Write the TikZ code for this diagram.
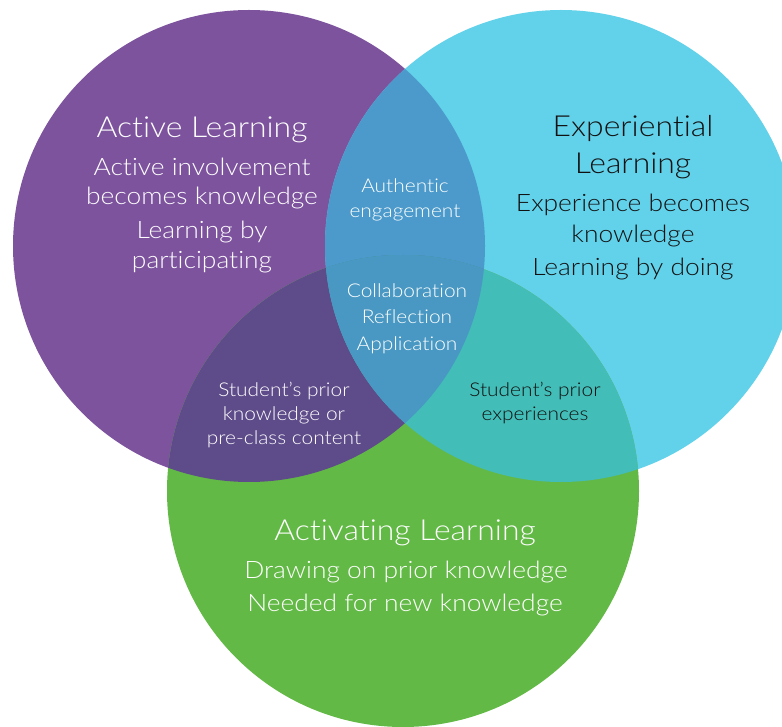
\documentclass[tikz,border=0pt]{standalone}
\usepackage{fontspec}
\newfontfamily\lfont{Lato Light}[FakeStretch=1.1,Ligatures=NoCommon]
\definecolor{cpur}{HTML}{7D539E}
\definecolor{ccya}{HTML}{62D1EA}
\definecolor{cgrn}{HTML}{63B946}
\definecolor{cpc}{HTML}{4B9ACB}
\definecolor{cpg}{HTML}{5E4B89}
\definecolor{ccg}{HTML}{42BDB8}
\definecolor{cpcg}{HTML}{4898C3}
\definecolor{ctxt}{HTML}{111111}
\begin{document}
\begin{tikzpicture}[x=1pt,y=-1pt,
  every node/.style={inner sep=0pt, anchor=base},
  ttl/.style={font=\lfont\fontsize{29}{31}\selectfont},
  bdy/.style={font=\lfont\fontsize{24}{26}\selectfont},
  sml/.style={font=\lfont\fontsize{19}{21}\selectfont},
  wt/.style={text=white},
  bk/.style={text=ctxt}]
\useasboundingbox (0,0) rectangle (782,727);
\clip (0,0) rectangle (782,727);
\coordinate (P) at (249,246);
\coordinate (C) at (561,246);
\coordinate (G) at (403,491);
% base circles
\fill[cpur] (P) circle[radius=236pt];
\fill[ccya] (C) circle[radius=236pt];
\fill[cgrn] (G) circle[radius=236pt];
% pairwise overlaps
\begin{scope}
  \clip (P) circle[radius=236pt];
  \fill[cpc] (C) circle[radius=236pt];
  \fill[cpg] (G) circle[radius=236pt];
\end{scope}
\begin{scope}
  \clip (C) circle[radius=236pt];
  \fill[ccg] (G) circle[radius=236pt];
\end{scope}
% triple overlap
\begin{scope}
  \clip (P) circle[radius=236pt];
  \clip (C) circle[radius=236pt];
  \fill[cpcg] (G) circle[radius=236pt];
\end{scope}
% Active Learning
\node[ttl,wt] (a0) at (202,138) {Active Learning};
\node[bdy,wt] (a1) at (202,176) {Active involvement};
\node[bdy,wt] (a2) at (202,205) {becomes knowledge};
\node[bdy,wt] (a3) at (202,239) {Learning by};
\node[bdy,wt] (a4) at (202,269) {participating};
% Experiential Learning
\node[ttl,bk] (e0) at (633,137) {Experiential};
\node[ttl,bk] (e1) at (633,174) {Learning};
\node[bdy,bk] (e2) at (633,212) {Experience becomes};
\node[bdy,bk] (e3) at (633,243) {knowledge};
\node[bdy,bk] (e4) at (633,276) {Learning by doing};
% Active & Experiential
\node[sml,wt] (ae0) at (405,193) {Authentic};
\node[sml,wt] (ae1) at (405,218) {engagement};
% centre
\node[sml,wt] (c0) at (407,298) {Collaboration};
\node[sml,wt] (c1) at (407,324) {Reflection};
\node[sml,wt] (c2) at (407,351) {Application};
% Active & Activating
\node[sml,wt] (ag0) at (284,396) {Student’s prior};
\node[sml,wt] (ag1) at (284,420) {knowledge or};
\node[sml,wt] (ag2) at (284,444) {pre-class content};
% Experiential & Activating
\node[sml,bk] (eg0) at (535,396) {Student’s prior};
\node[sml,bk] (eg1) at (535,420) {experiences};
% Activating Learning
\node[ttl,wt] (g0) at (405,540) {Activating Learning};
\node[bdy,wt] (g1) at (406,578) {Drawing on prior knowledge};
\node[bdy,wt] (g2) at (405,611) {Needed for new knowledge};
\end{tikzpicture}
\end{document}
